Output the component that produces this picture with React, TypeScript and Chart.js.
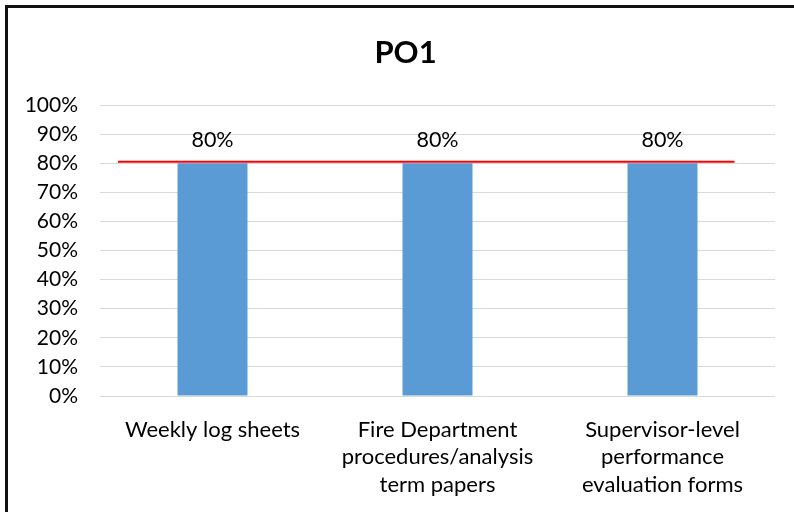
import React, { useEffect, useRef } from "react";
import { Chart, registerables } from "chart.js";

Chart.register(...registerables);

const categories: string[][] = [
  ["Weekly log sheets"],
  ["Fire Department", "procedures/analysis", "term papers"],
  ["Supervisor-level", "performance", "evaluation forms"],
];
const values: number[] = [80, 80, 80];
const yTicks: number[] = [0, 10, 20, 30, 40, 50, 60, 70, 80, 90, 100];
const targetValue = 80.5;
const targetFrom = -0.42;
const targetTo = 2.32;
const titleText = "PO1";

const FONT = "Lato, 'Open Sans', sans-serif";

const titlePlugin = {
  id: "offsetTitle",
  afterDraw(chart: any) {
    const ctx = chart.ctx;
    ctx.save();
    ctx.font = `bold 31px ${FONT}`;
    ctx.fillStyle = "#000";
    ctx.textAlign = "center";
    ctx.textBaseline = "middle";
    ctx.fillText(titleText, (chart.width + 17) / 2, 52.5);
    ctx.restore();
  },
};

const labelPlugin = {
  id: "valueLabels",
  afterDatasetsDraw(chart: any) {
    const ctx = chart.ctx;
    const meta = chart.getDatasetMeta(0);
    ctx.save();
    ctx.font = `21.5px ${FONT}`;
    ctx.fillStyle = "#000";
    ctx.textAlign = "center";
    ctx.textBaseline = "middle";
    meta.data.forEach((bar: any, i: number) => {
      ctx.fillText(`${values[i]}%`, bar.x, bar.y - 23);
    });
    ctx.restore();
  },
};

const targetPlugin = {
  id: "targetLine",
  afterDatasetsDraw(chart: any) {
    const ctx = chart.ctx;
    const xs = chart.scales.x;
    const ys = chart.scales.y;
    const y = ys.getPixelForValue(targetValue);
    ctx.save();
    ctx.strokeStyle = "#FF0000";
    ctx.lineWidth = 2;
    ctx.beginPath();
    ctx.moveTo(xs.getPixelForValue(targetFrom), y);
    ctx.lineTo(xs.getPixelForValue(targetTo), y);
    ctx.stroke();
    ctx.restore();
  },
};

export default function App() {
  const ref = useRef<HTMLCanvasElement | null>(null);
  useEffect(() => {
    if (!ref.current) return;
    const chart = new Chart(ref.current, {
      type: "bar",
      data: {
        labels: categories,
        datasets: [
          {
            data: values,
            backgroundColor: "#5B9BD5",
            borderWidth: 0,
            barPercentage: 0.311,
            categoryPercentage: 1,
          },
        ],
      },
      options: {
        responsive: false,
        animation: false,
        layout: { padding: { left: 0, right: 19, top: 105, bottom: 0 } },
        plugins: {
          legend: { display: false },
          tooltip: { enabled: false },
          title: { display: false },
        },
        scales: {
          x: {
            grid: { display: false, drawTicks: false },
            border: { display: false },
            ticks: {
              color: "#000",
              font: { family: FONT, size: 22, lineHeight: 1.25 },
              padding: 20,
              autoSkip: false,
              maxRotation: 0,
              minRotation: 0,
            },
            afterFit(scale: any) {
              scale.height = 116;
            },
          },
          y: {
            min: 0,
            max: 100,
            afterBuildTicks(scale: any) {
              scale.ticks = yTicks.map((v) => ({ value: v }));
            },
            grid: { color: "#D9D9D9", lineWidth: 1, drawTicks: false },
            border: { display: false },
            ticks: {
              color: "#000",
              font: { family: FONT, size: 21 },
              padding: 22,
              autoSkip: false,
              callback: (v: any) => `${v}%`,
            },
            afterFit(scale: any) {
              scale.width = 100;
            },
          },
        },
      },
      plugins: [labelPlugin, targetPlugin, titlePlugin],
    });
    return () => chart.destroy();
  }, []);

  return (
    <div style={{ position: "absolute", left: 0, top: 0, width: 794, height: 512, background: "#fff", overflow: "hidden" }}>
      <div
        style={{
          position: "absolute",
          left: 5,
          top: 5,
          width: 900,
          height: 600,
          borderLeft: "3px solid #111",
          borderTop: "3px solid #111",
        }}
      />
      <canvas ref={ref} width={794} height={512} style={{ position: "absolute", left: 0, top: 0, display: "block" }} />
    </div>
  );
}
